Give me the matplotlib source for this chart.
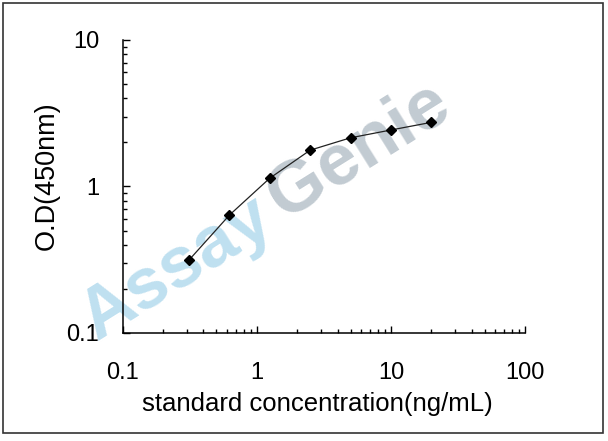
import matplotlib
matplotlib.use("Agg")
import matplotlib.pyplot as plt
from matplotlib.ticker import LogLocator, FuncFormatter, NullFormatter
from matplotlib.patches import Rectangle

# standard curve data
concentration = [0.3125, 0.625, 1.25, 2.5, 5, 10, 20]
od_450 = [0.315, 0.638, 1.14, 1.77, 2.15, 2.43, 2.74]

x_ticks = [0.1, 1, 10, 100]
y_ticks = [0.1, 1, 10]

plt.rcParams['font.family'] = ['Liberation Sans', 'DejaVu Sans']

fig = plt.figure(figsize=(6.08, 4.41), dpi=100)
ax = fig.add_axes([0.2018, 0.2449, 0.8635 - 0.2018, 0.9093 - 0.2449])
ax.set_zorder(1)
ax.set_facecolor('none')

# watermark, behind the axes
fig.text(0.29, 0.39, "Assay", fontsize=52, fontweight='bold', color='#bfe0f0',
         rotation=32, ha='center', va='center', zorder=0)
fig.text(0.59, 0.66, "Genie", fontsize=52, fontweight='bold', color='#c2cbd2',
         rotation=32, ha='center', va='center', zorder=0)

ax.plot(concentration, od_450, color='#222222', lw=0.9, marker='D', markersize=5,
        markerfacecolor='black', markeredgecolor='black')

ax.set_xscale('log')
ax.set_yscale('log')
ax.set_xlim(0.1, 100)
ax.set_ylim(0.1, 10)
ax.set_xticks(x_ticks)
ax.set_yticks(y_ticks)
fmt = FuncFormatter(lambda v, p: '%g' % v)
ax.xaxis.set_major_formatter(fmt)
ax.yaxis.set_major_formatter(fmt)
ax.xaxis.set_minor_locator(LogLocator(base=10, subs=range(2, 10)))
ax.yaxis.set_minor_locator(LogLocator(base=10, subs=range(2, 10)))
ax.xaxis.set_minor_formatter(NullFormatter())
ax.yaxis.set_minor_formatter(NullFormatter())

ax.tick_params(which='major', direction='in', length=5, width=1, labelsize=17)
ax.tick_params(axis='x', which='major', pad=21)
ax.tick_params(axis='y', which='major', pad=17)
ax.tick_params(which='minor', direction='in', length=3, width=1)
ax.spines['top'].set_visible(False)
ax.spines['right'].set_visible(False)
for s in ['left', 'bottom']:
    ax.spines[s].set_linewidth(1.1)

ax.set_xlabel("standard concentration(ng/mL)", fontsize=18.5)
ax.set_ylabel("O.D(450nm)", fontsize=19.5)
ax.xaxis.set_label_coords(0.484, -0.2)
ax.yaxis.set_label_coords(-0.156, 0.536)

# outer border
fig.patches.append(Rectangle((3 / 608, 1 - 433 / 441), 600 / 608, 430 / 441,
                             transform=fig.transFigure, fill=False,
                             edgecolor='#333333', lw=1.2))

fig.savefig("out.png", dpi=100)
